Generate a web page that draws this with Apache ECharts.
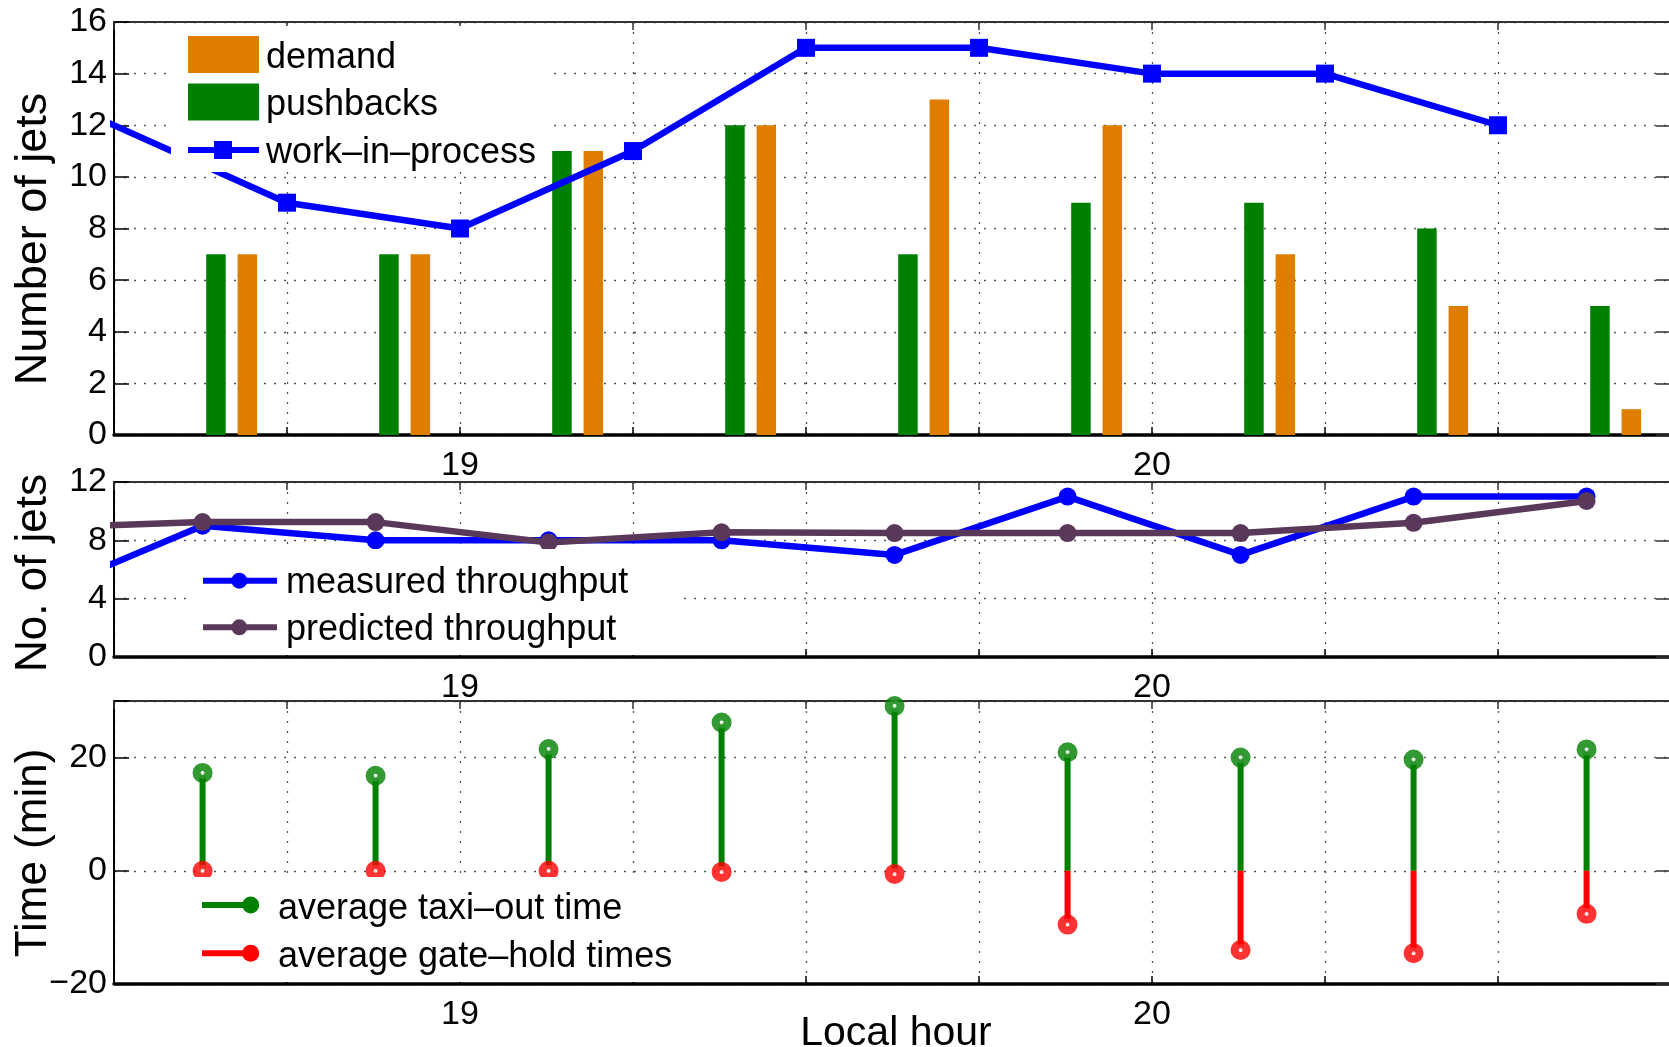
<!DOCTYPE html>
<html><head><meta charset="utf-8">
<script src="https://cdn.jsdelivr.net/npm/echarts@6/dist/echarts.min.js"></script>
<style>html,body{margin:0;padding:0;background:#fff}#c{width:1669px;height:1047px}</style>
</head><body><div id="c"></div>
<script>
// ---------- data ----------
const hourLabels = [19, 20];
const barTimes = [18.67, 18.92, 19.17, 19.42, 19.67, 19.92, 20.17, 20.42, 20.67];
const pushbacks = [7, 7, 11, 12, 7, 9, 9, 8, 5];
const demand = [7, 7, 11, 12, 13, 12, 7, 5, 1];
const wipTimes = [18.25, 18.75, 19.0, 19.25, 19.5, 19.75, 20.0, 20.25, 20.5];
const workInProcess = [15, 9, 8, 11, 15, 15, 14, 14, 12];
const tpTimes = [18.378, 18.628, 18.878, 19.128, 19.378, 19.628, 19.878, 20.128, 20.378, 20.628];
const measuredTp = [4, 9, 8, 8, 8, 7, 11, 7, 11, 11];
const predictedTp = [8.85, 9.25, 9.25, 7.85, 8.55, 8.5, 8.5, 8.5, 9.2, 10.7];
const stemTimes = [18.628, 18.878, 19.128, 19.378, 19.628, 19.878, 20.128, 20.378, 20.628];
const taxiOut = [17.3, 16.8, 21.5, 26.2, 29.1, 20.95, 20.0, 19.65, 21.45];
const gateHold = [0, 0, 0, -0.2, -0.55, -9.5, -14.0, -14.55, -7.6];

// ---------- styles ----------
const FONT = '"Liberation Sans", Arial, Helvetica, sans-serif';
const BLUE = '#0000ff', GREEN = '#008000', ORANGE = '#de7d00', RED = '#ff0000', PURPLE = '#5a385a';
const GRIDLINE = {type: [2, 8], color: '#555', width: 1.3};

const pair = (xs, ys) => xs.map((x, i) => [x, ys[i]]);
const isHour = v => hourLabels.some(h => Math.abs(h - v) < 1e-6);

function xBottom(gi) {
  return {type: 'value', gridIndex: gi, position: 'bottom', min: 18.5, max: 20.75, interval: 0.25,
    axisLine: {show: true, onZero: false, lineStyle: {color: '#000', width: 3.5}},
    axisTick: {show: true, inside: true, length: 8, lineStyle: {color: '#000', width: 1.5}},
    axisLabel: {show: true, margin: 14, color: '#000', fontSize: 34, fontFamily: FONT,
      formatter: v => isHour(v) ? String(Math.round(v)) : ''},
    splitLine: {show: true, lineStyle: GRIDLINE}};
}
function xTop(gi) {
  return {type: 'value', gridIndex: gi, position: 'top', min: 18.5, max: 20.75, interval: 0.25,
    axisLine: {show: true, onZero: false, lineStyle: {color: '#333', width: 2}},
    axisTick: {show: true, inside: true, length: 8, lineStyle: {color: '#333', width: 1.5}},
    axisLabel: {show: false}, splitLine: {show: false}};
}
function yLeft(gi, min, max, interval, hideMax) {
  return {type: 'value', gridIndex: gi, position: 'left', min, max, interval,
    axisLine: {show: true, onZero: false, lineStyle: {color: '#000', width: 2}},
    axisTick: {show: true, inside: true, length: 15, lineStyle: {color: '#000', width: 1.5}},
    axisLabel: {margin: 7, color: '#000', fontSize: 34, fontFamily: FONT,
      formatter: v => (hideMax && v === max) ? '' : String(v).replace('-', '\u2212')},
    splitLine: {show: true, lineStyle: GRIDLINE}};
}
function yRight(gi, min, max, interval) {
  return {type: 'value', gridIndex: gi, position: 'right', min, max, interval,
    axisLine: {show: true, onZero: false, lineStyle: {color: '#333', width: 2}},
    axisTick: {show: true, inside: true, length: 15, lineStyle: {color: '#333', width: 1.5}},
    axisLabel: {show: false}, splitLine: {show: false}};
}

const txt = (text, x, y, size, align, extra) => Object.assign({type: 'text', z: 110, x, y,
  style: {text, fill: '#000', font: size + 'px ' + FONT, align, verticalAlign: 'middle'}}, extra || {});

const graphic = [
  // top legend
  {type: 'rect', z: 100, shape: {x: 171, y: 26, width: 378, height: 146}, style: {fill: '#fff'}},
  {type: 'rect', z: 110, shape: {x: 188, y: 36, width: 71, height: 37}, style: {fill: ORANGE}},
  {type: 'rect', z: 110, shape: {x: 188, y: 83.5, width: 71, height: 37}, style: {fill: GREEN}},
  {type: 'line', z: 110, shape: {x1: 188, y1: 150, x2: 259, y2: 150}, style: {stroke: BLUE, lineWidth: 6}},
  {type: 'rect', z: 111, shape: {x: 214, y: 141, width: 18, height: 18}, style: {fill: BLUE}},
  txt('demand', 266, 58, 36, 'left'),
  txt('pushbacks', 266, 105.5, 36, 'left'),
  txt('work\u2013in\u2013process', 266, 153, 36, 'left'),
  // middle legend
  {type: 'rect', z: 100, shape: {x: 189, y: 549, width: 492, height: 106}, style: {fill: '#fff'}},
  {type: 'line', z: 110, shape: {x1: 203, y1: 580.7, x2: 277, y2: 580.7}, style: {stroke: BLUE, lineWidth: 6}},
  {type: 'circle', z: 111, shape: {cx: 239.3, cy: 580.7, r: 8}, style: {fill: BLUE}},
  {type: 'line', z: 110, shape: {x1: 203, y1: 627.3, x2: 277, y2: 627.3}, style: {stroke: PURPLE, lineWidth: 6}},
  {type: 'circle', z: 111, shape: {cx: 239.3, cy: 627.3, r: 8}, style: {fill: PURPLE}},
  txt('measured throughput', 286, 583, 36, 'left'),
  txt('predicted throughput', 286, 630.5, 36, 'left'),
  // bottom legend
  {type: 'rect', z: 100, shape: {x: 189, y: 877, width: 500, height: 105}, style: {fill: '#fff'}},
  {type: 'line', z: 110, shape: {x1: 202, y1: 905, x2: 250, y2: 905}, style: {stroke: GREEN, lineWidth: 6}},
  {type: 'circle', z: 111, shape: {cx: 250.7, cy: 905, r: 8.5}, style: {fill: GREEN}},
  {type: 'line', z: 110, shape: {x1: 202, y1: 953.3, x2: 250, y2: 953.3}, style: {stroke: RED, lineWidth: 6}},
  {type: 'circle', z: 111, shape: {cx: 250.7, cy: 953.3, r: 8.5}, style: {fill: RED}},
  txt('average taxi\u2013out time', 278, 909.5, 36, 'left'),
  txt('average gate\u2013hold times', 278, 957, 36, 'left'),
  // axis titles
  txt('Number of jets', 34, 239, 45, 'center', {rotation: Math.PI / 2}),
  txt('No. of jets', 34, 573, 44, 'center', {rotation: Math.PI / 2}),
  txt('Time (min)', 34, 853, 44, 'center', {rotation: Math.PI / 2}),
  txt('Local hour', 896, 1034, 41, 'center')
];

const G = {outerBoundsMode: 'none', containLabel: false, left: 114, right: -2};
const option = {
  animation: false,
  backgroundColor: '#fff',
  grid: [
    Object.assign({top: 22, height: 413}, G),
    Object.assign({top: 482, height: 175}, G),
    Object.assign({top: 701, height: 283}, G)
  ],
  xAxis: [xBottom(0), xTop(0), xBottom(1), xTop(1), xBottom(2), xTop(2)],
  yAxis: [yLeft(0, 0, 16, 2), yRight(0, 0, 16, 2),
          yLeft(1, 0, 12, 4), yRight(1, 0, 12, 4),
          yLeft(2, -20, 30, 20, true), yRight(2, -20, 30, 20)],
  graphic,
  series: [
    {name: 'pushbacks', type: 'bar', xAxisIndex: 0, yAxisIndex: 0, data: pair(barTimes, pushbacks),
      barWidth: 19.5, barGap: '61%', itemStyle: {color: GREEN}},
    {name: 'demand', type: 'bar', xAxisIndex: 0, yAxisIndex: 0, data: pair(barTimes, demand),
      barWidth: 19.5, barGap: '61%', itemStyle: {color: ORANGE}},
    {name: 'work-in-process', type: 'line', xAxisIndex: 0, yAxisIndex: 0, data: pair(wipTimes, workInProcess),
      clip: true, symbol: 'rect', symbolSize: 18, lineStyle: {color: BLUE, width: 6.5}, itemStyle: {color: BLUE}, z: 5},
    {name: 'measured throughput', type: 'line', xAxisIndex: 2, yAxisIndex: 2, data: pair(tpTimes, measuredTp),
      clip: true, symbol: 'circle', symbolSize: 18, lineStyle: {color: BLUE, width: 6.5}, itemStyle: {color: BLUE}, z: 5},
    {name: 'predicted throughput', type: 'line', xAxisIndex: 2, yAxisIndex: 2, data: pair(tpTimes, predictedTp),
      clip: true, symbol: 'circle', symbolSize: 18, lineStyle: {color: PURPLE, width: 6.5}, itemStyle: {color: PURPLE}, z: 6},
    {name: 'taxi stem', type: 'bar', xAxisIndex: 4, yAxisIndex: 4, data: pair(stemTimes, taxiOut),
      barWidth: 6, barGap: '-100%', itemStyle: {color: GREEN}},
    {name: 'gate stem', type: 'bar', xAxisIndex: 4, yAxisIndex: 4, data: pair(stemTimes, gateHold),
      barWidth: 6, barGap: '-100%', itemStyle: {color: RED}},
    {name: 'average taxi-out time', type: 'scatter', xAxisIndex: 4, yAxisIndex: 4, data: pair(stemTimes, taxiOut),
      symbol: 'circle', symbolSize: 12, itemStyle: {color: '#fff', borderColor: GREEN, borderWidth: 8}, z: 6},
    {name: 'average gate-hold times', type: 'scatter', xAxisIndex: 4, yAxisIndex: 4, data: pair(stemTimes, gateHold),
      symbol: 'circle', symbolSize: 12, itemStyle: {color: '#fff', borderColor: RED, borderWidth: 8}, z: 7}
  ]
};
const chart = echarts.init(document.getElementById('c'), null, {renderer: 'canvas'});
chart.setOption(option);
</script>
</body></html>
